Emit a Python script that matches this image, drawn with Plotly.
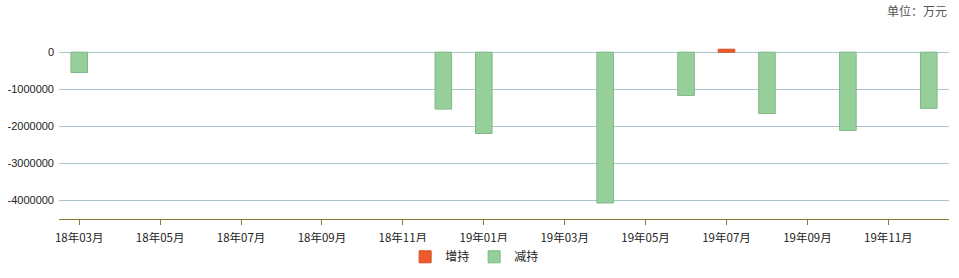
import plotly.graph_objects as go

months = ["18年03月", "18年04月", "18年05月", "18年06月", "18年07月", "18年08月",
          "18年09月", "18年10月", "18年11月", "18年12月", "19年01月", "19年02月",
          "19年03月", "19年04月", "19年05月", "19年06月", "19年07月", "19年08月",
          "19年09月", "19年10月", "19年11月", "19年12月"]

inc_months = ["19年07月"]
inc_values = [80000]

dec_months = ["18年03月", "18年12月", "19年01月", "19年04月", "19年06月",
              "19年08月", "19年10月", "19年12月"]
dec_values = [-550000, -1540000, -2200000, -4080000, -1170000,
              -1660000, -2120000, -1520000]

tick_labels = months[::2]
y_ticks = [0, -1000000, -2000000, -3000000, -4000000]

fig = go.Figure()
fig.add_trace(go.Bar(
    x=inc_months, y=inc_values, name="增持", width=0.41,
    marker=dict(color="#f05a2a", line=dict(color="#d24e22", width=1)),
))
fig.add_trace(go.Bar(
    x=dec_months, y=dec_values, name="减持", width=0.41,
    marker=dict(color="#96cf9a", line=dict(color="#7fb886", width=1)),
))

fig.update_layout(
    width=959, height=278,
    margin=dict(l=59, r=10, t=30, b=59, autoexpand=False),
    plot_bgcolor="white", paper_bgcolor="white",
    barmode="overlay",
    font=dict(family="Noto Sans CJK SC, DejaVu Sans", size=11, color="#222"),
    showlegend=True,
    legend=dict(orientation="h", x=0.467, xanchor="center", y=-0.2, yanchor="middle",
                font=dict(size=12, color="#222"), itemwidth=30, traceorder="normal",
                tracegroupgap=0),
    xaxis=dict(
        type="category", categoryorder="array", categoryarray=months,
        range=[-0.5, len(months) - 0.5], automargin=False,
        tickmode="array", tickvals=tick_labels, ticktext=tick_labels,
        showline=True, linecolor="#8a7a40", linewidth=1,
        ticks="outside", ticklen=5, tickcolor="#8a7a40",
        showgrid=False, zeroline=False, ticklabelstandoff=3,
        tickfont=dict(family="Noto Sans CJK SC", size=11.5, color="#222"),
    ),
    yaxis=dict(
        range=[-4513000, 600000], automargin=False,
        tickmode="array", tickvals=y_ticks, ticktext=[str(v) for v in y_ticks],
        showgrid=True, gridcolor="#a9c5cc", gridwidth=1,
        zeroline=True, zerolinecolor="#a9c5cc", zerolinewidth=1,
        showline=False, ticks="", ticklabelstandoff=4,
        tickfont=dict(family="Liberation Sans", size=11, color="#222"),
    ),
    annotations=[dict(
        text="单位：万元", xref="paper", yref="paper", x=1.0, y=1.0,
        xanchor="right", yanchor="bottom", yshift=9, showarrow=False,
        font=dict(family="Noto Sans CJK SC", size=12, color="#555"),
    )],
)

fig.write_html("out.html")
